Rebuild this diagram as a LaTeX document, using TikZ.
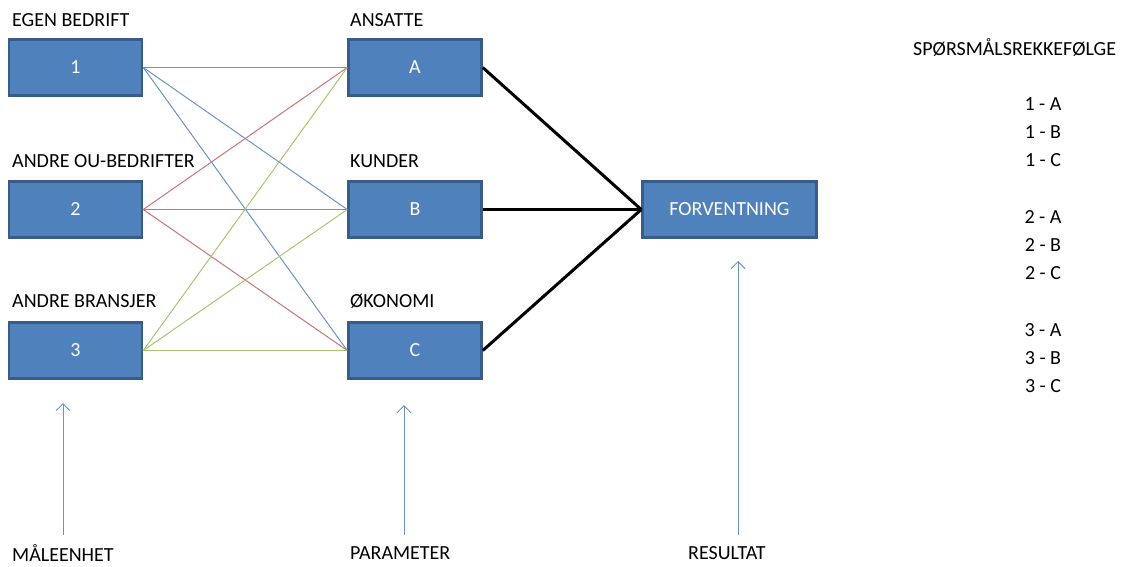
\documentclass[tikz,border=0pt]{standalone}
\usepackage{fontspec}
\setmainfont{Carlito}
\usetikzlibrary{arrows.meta}
\definecolor{boxfill}{HTML}{4F81BD}
\definecolor{boxline}{HTML}{385D8A}
\definecolor{lblue}{HTML}{4F81BD}
\definecolor{lred}{HTML}{C0504D}
\definecolor{lgreen}{HTML}{9BBB59}
\tikzset{
  box/.style={draw=boxline, line width=2.5pt, fill=boxfill, text=white, minimum width=133pt, minimum height=56pt, inner sep=0pt, font=\fontsize{20}{24}\selectfont},
  lbl/.style={anchor=west, inner sep=0pt, font=\fontsize{20}{24}\selectfont},
  pair/.style={inner sep=0pt, font=\fontsize{20}{24}\selectfont},
  thin/.style={line width=1pt},
  thick/.style={line width=3pt, black},
  up/.style={draw=lblue!85, line width=1pt, -{Straight Barb[length=7pt,width=14pt,line width=1pt]}}
}
\begin{document}
\begin{tikzpicture}[x=1pt,y=-1pt]
\useasboundingbox (0,0) rectangle (1129,566);
% boxes
\node[box] (n1) at (75.5,67.5) {1};
\node[box] (n2) at (75.5,209.5) {2};
\node[box] (n3) at (75.5,350.5) {3};
\node[box] (nA) at (415,67.5) {A};
\node[box] (nB) at (415,209.5) {B};
\node[box] (nC) at (415,350.5) {C};
\node[box, minimum width=174pt] (nF) at (729.5,209.5) {FORVENTNING};
% labels
\node[lbl] (l1) at (12,20) {EGEN BEDRIFT};
\node[lbl] (l2) at (12,161) {ANDRE OU-BEDRIFTER};
\node[lbl] (l3) at (12,301) {ANDRE BRANSJER};
\node[lbl] (lA) at (350,20) {ANSATTE};
\node[lbl] (lB) at (350,161) {KUNDER};
\node[lbl] (lC) at (350,301) {ØKONOMI};
\node[lbl] (q) at (913,48) {SPØRSMÅLSREKKEFØLGE};
% pairs
\node[pair] (p1a) at (1043,104) {1 - A};
\node[pair] (p1b) at (1043,132) {1 - B};
\node[pair] (p1c) at (1043,160) {1 - C};
\node[pair] (p2a) at (1043,217) {2 - A};
\node[pair] (p2b) at (1043,245) {2 - B};
\node[pair] (p2c) at (1043,273) {2 - C};
\node[pair] (p3a) at (1043,330) {3 - A};
\node[pair] (p3b) at (1043,358) {3 - B};
\node[pair] (p3c) at (1043,386) {3 - C};
% bottom labels
\node[lbl] (m) at (12,553) {MÅLEENHET};
\node[lbl] (p) at (350,553) {PARAMETER};
\node[lbl] (r) at (688,553) {RESULTAT};
% connectors
\begin{scope}[thin]
\draw[lblue!85] (n1.east) -- (nA.west);
\draw[lblue!85] (n1.east) -- (nB.west);
\draw[lblue!85] (n1.east) -- (nC.west);
\draw[lred!80] (n2.east) -- (nA.west);
\draw[lred!80] (n2.east) -- (nB.west);
\draw[lred!80] (n2.east) -- (nC.west);
\draw[lgreen!85] (n3.east) -- (nA.west);
\draw[lgreen!85] (n3.east) -- (nB.west);
\draw[lgreen!85] (n3.east) -- (nC.west);
\end{scope}
\draw[thick] (nA.east) -- (nF.west);
\draw[thick] (nB.east) -- (nF.west);
\draw[thick] (nC.east) -- (nF.west);
% arrows
\coordinate (am) at (63,535);
\coordinate (ap) at (404,535);
\coordinate (ar) at (738,535);
\draw[up] (am) -- (63,403);
\draw[up] (ap) -- (404,405);
\draw[up] (ar) -- (738,261);
\end{tikzpicture}
\end{document}
